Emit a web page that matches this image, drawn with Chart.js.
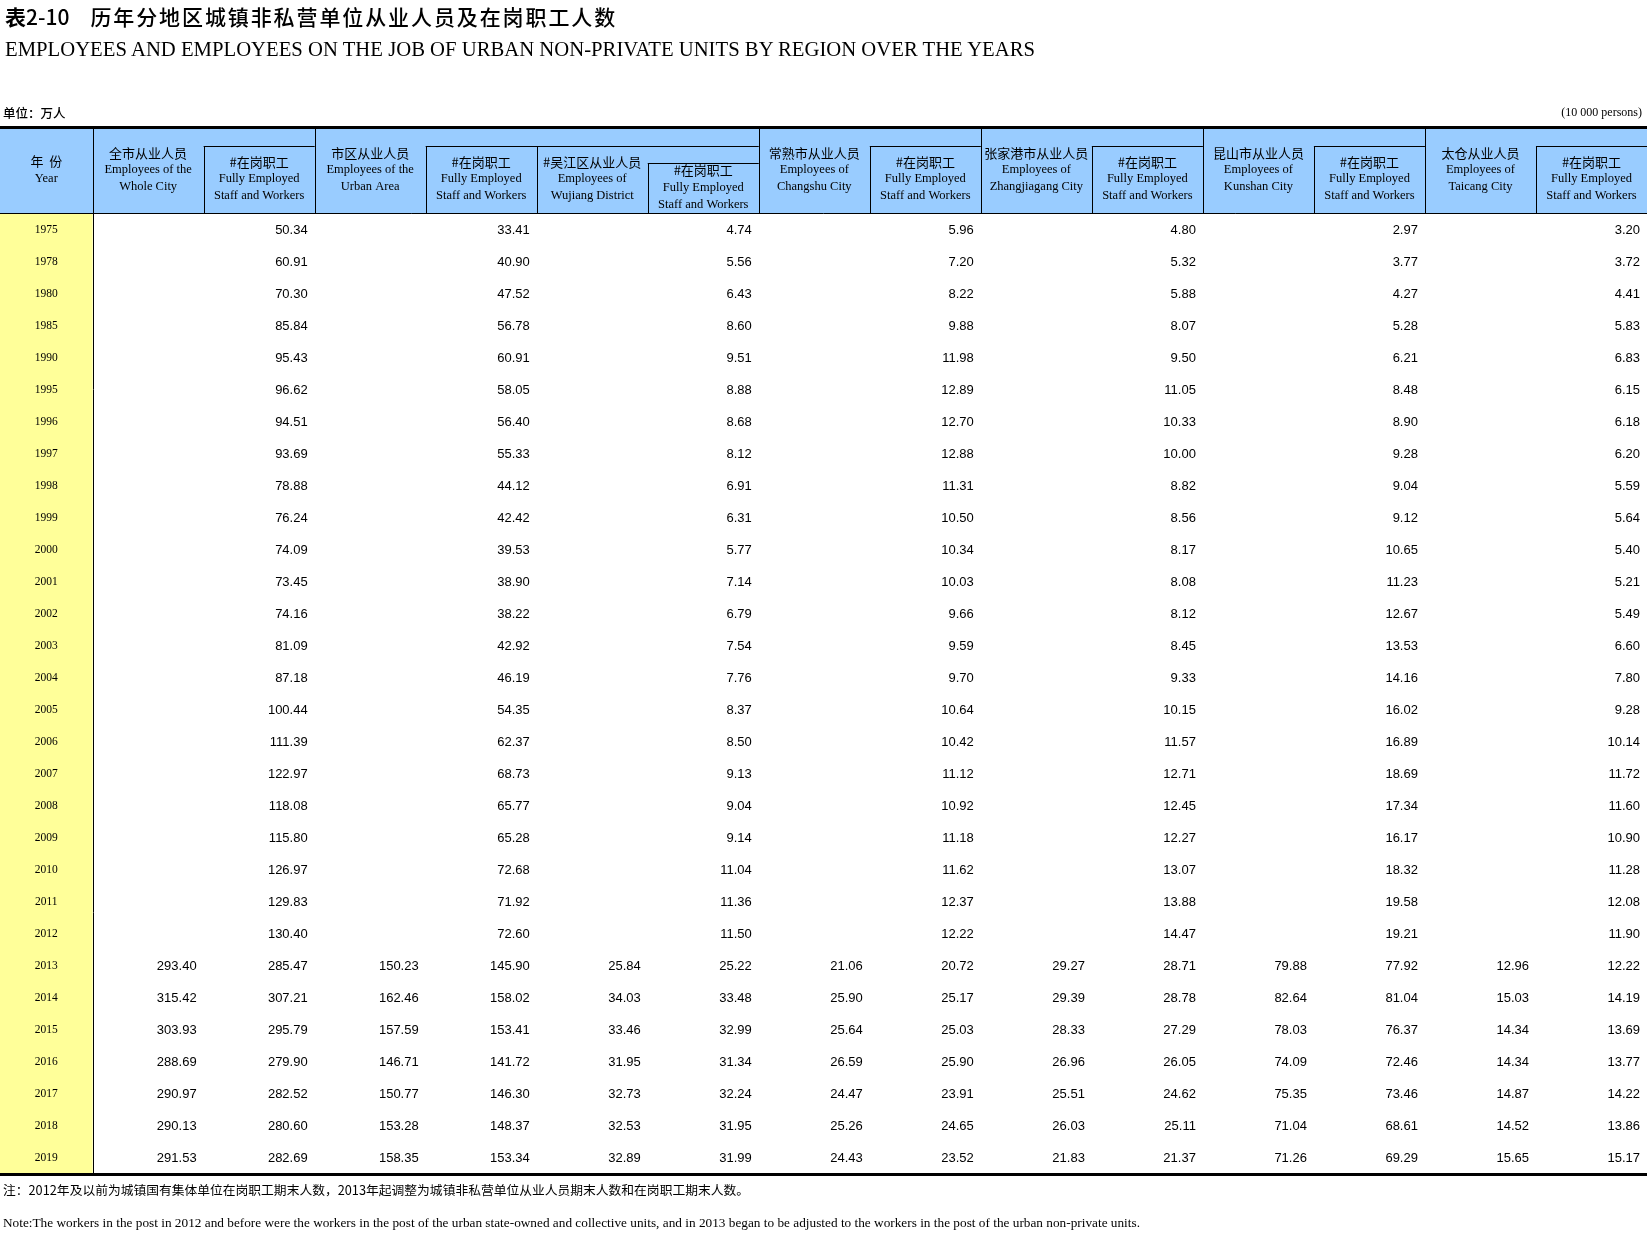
<!DOCTYPE html>
<html lang="zh-CN">
<head>
<meta charset="utf-8">
<title>表2-10 历年分地区城镇非私营单位从业人员及在岗职工人数</title>
<script src="https://cdn.jsdelivr.net/npm/chart.js@4.4.1/dist/chart.umd.min.js"></script>
<style>
  html, body { margin: 0; padding: 0; background: #fff; }
  #page { position: relative; width: 1647px; height: 1239px; overflow: hidden; }
  #table { position: absolute; left: 0; top: 0; }
  .txt { position: absolute; display: inline-block; white-space: nowrap; line-height: 1; color: #000; transform-origin: 0 0; }
  .cn { font-family: "Noto Sans CJK SC", sans-serif; }
  .en { font-family: "Liberation Serif", "DejaVu Serif", serif; }
</style>
</head>
<body>
<div id="page">
  <canvas id="table" width="1647" height="1239"></canvas>

  <div id="titleCn" class="txt cn" style="left:5px; top:6px; font-size:21px; font-weight:500;"><span style="font-weight:bold;">表</span>2-10<span style="margin-left:21px; letter-spacing:1.9px;">历年分地区城镇非私营单位从业人员及在岗职工人数</span></div>
  <div id="titleEn" class="txt en" style="left:5px; top:39px; font-size:21px;">EMPLOYEES AND EMPLOYEES ON THE JOB OF URBAN NON-PRIVATE UNITS BY REGION OVER THE YEARS</div>

  <div id="unitCn" class="txt cn" style="left:3px; top:107px; font-size:12.5px; font-weight:500;">单位：万人</div>
  <div id="unitEn" class="txt en" style="right:5px; top:106px; font-size:12px; transform-origin:100% 0;">(10 000 persons)</div>

  <div id="noteCn" class="txt cn" style="left:3px; top:1184px; font-size:12.5px;">注：2012年及以前为城镇国有集体单位在岗职工期末人数，2013年起调整为城镇非私营单位从业人员期末人数和在岗职工期末人数。</div>
  <div id="noteEn" class="txt en" style="left:3px; top:1217px; font-size:12.5px;">Note:The workers in the post in 2012 and before were the workers in the post of the urban state-owned and collective units, and in 2013 began to be adjusted to the workers in the post of the urban non-private units.</div>
</div>

<script>
// --- Data ---
const years = ['1975', '1978', '1980', '1985', '1990', '1995', '1996', '1997', '1998', '1999',
               '2000', '2001', '2002', '2003', '2004', '2005', '2006', '2007', '2008', '2009',
               '2010', '2011', '2012', '2013', '2014', '2015', '2016', '2017', '2018', '2019'];

const columns = ['全市从业人员', '全市在岗职工', '市区从业人员', '市区在岗职工',
                 '吴江区从业人员', '吴江区在岗职工', '常熟市从业人员', '常熟市在岗职工',
                 '张家港市从业人员', '张家港市在岗职工', '昆山市从业人员', '昆山市在岗职工',
                 '太仓从业人员', '太仓在岗职工'];

// header labels, one per column
const headerCn  = ['全市从业人员', '#在岗职工', '市区从业人员', '#在岗职工', '#吴江区从业人员', '#在岗职工',
                   '常熟市从业人员', '#在岗职工', '张家港市从业人员', '#在岗职工', '昆山市从业人员', '#在岗职工',
                   '太仓从业人员', '#在岗职工'];
const headerEn1 = ['Employees of the', 'Fully Employed', 'Employees of the', 'Fully Employed', 'Employees of', 'Fully Employed',
                   'Employees of', 'Fully Employed', 'Employees of', 'Fully Employed', 'Employees of', 'Fully Employed',
                   'Employees of', 'Fully Employed'];
const headerEn2 = ['Whole City', 'Staff and Workers', 'Urban Area', 'Staff and Workers', 'Wujiang District', 'Staff and Workers',
                   'Changshu City', 'Staff and Workers', 'Zhangjiagang City', 'Staff and Workers', 'Kunshan City', 'Staff and Workers',
                   'Taicang City', 'Staff and Workers'];
const yearHeader = ['年  份', 'Year'];

// 从业人员 series start in 2013, 在岗职工 series cover every year
const wholeCity         = [293.40, 315.42, 303.93, 288.69, 290.97, 290.13, 291.53];
const wholeCityStaff    = [50.34, 60.91, 70.30, 85.84, 95.43, 96.62, 94.51, 93.69, 78.88, 76.24,
                           74.09, 73.45, 74.16, 81.09, 87.18, 100.44, 111.39, 122.97, 118.08, 115.80,
                           126.97, 129.83, 130.40, 285.47, 307.21, 295.79, 279.90, 282.52, 280.60, 282.69];
const urbanArea         = [150.23, 162.46, 157.59, 146.71, 150.77, 153.28, 158.35];
const urbanAreaStaff    = [33.41, 40.90, 47.52, 56.78, 60.91, 58.05, 56.40, 55.33, 44.12, 42.42,
                           39.53, 38.90, 38.22, 42.92, 46.19, 54.35, 62.37, 68.73, 65.77, 65.28,
                           72.68, 71.92, 72.60, 145.90, 158.02, 153.41, 141.72, 146.30, 148.37, 153.34];
const wujiang           = [25.84, 34.03, 33.46, 31.95, 32.73, 32.53, 32.89];
const wujiangStaff      = [4.74, 5.56, 6.43, 8.60, 9.51, 8.88, 8.68, 8.12, 6.91, 6.31,
                           5.77, 7.14, 6.79, 7.54, 7.76, 8.37, 8.50, 9.13, 9.04, 9.14,
                           11.04, 11.36, 11.50, 25.22, 33.48, 32.99, 31.34, 32.24, 31.95, 31.99];
const changshu          = [21.06, 25.90, 25.64, 26.59, 24.47, 25.26, 24.43];
const changshuStaff     = [5.96, 7.20, 8.22, 9.88, 11.98, 12.89, 12.70, 12.88, 11.31, 10.50,
                           10.34, 10.03, 9.66, 9.59, 9.70, 10.64, 10.42, 11.12, 10.92, 11.18,
                           11.62, 12.37, 12.22, 20.72, 25.17, 25.03, 25.90, 23.91, 24.65, 23.52];
const zhangjiagang      = [29.27, 29.39, 28.33, 26.96, 25.51, 26.03, 21.83];
const zhangjiagangStaff = [4.80, 5.32, 5.88, 8.07, 9.50, 11.05, 10.33, 10.00, 8.82, 8.56,
                           8.17, 8.08, 8.12, 8.45, 9.33, 10.15, 11.57, 12.71, 12.45, 12.27,
                           13.07, 13.88, 14.47, 28.71, 28.78, 27.29, 26.05, 24.62, 25.11, 21.37];
const kunshan           = [79.88, 82.64, 78.03, 74.09, 75.35, 71.04, 71.26];
const kunshanStaff      = [2.97, 3.77, 4.27, 5.28, 6.21, 8.48, 8.90, 9.28, 9.04, 9.12,
                           10.65, 11.23, 12.67, 13.53, 14.16, 16.02, 16.89, 18.69, 17.34, 16.17,
                           18.32, 19.58, 19.21, 77.92, 81.04, 76.37, 72.46, 73.46, 68.61, 69.29];
const taicang           = [12.96, 15.03, 14.34, 14.34, 14.87, 14.52, 15.65];
const taicangStaff      = [3.20, 3.72, 4.41, 5.83, 6.83, 6.15, 6.18, 6.20, 5.59, 5.64,
                           5.40, 5.21, 5.49, 6.60, 7.80, 9.28, 10.14, 11.72, 11.60, 10.90,
                           11.28, 12.08, 11.90, 12.22, 14.19, 13.69, 13.77, 14.22, 13.86, 15.17];

const series = [wholeCity, wholeCityStaff, urbanArea, urbanAreaStaff, wujiang, wujiangStaff,
                changshu, changshuStaff, zhangjiagang, zhangjiagangStaff, kunshan, kunshanStaff,
                taicang, taicangStaff];

// --- Layout ---
const YEAR_W     = 92.6;   // width of the year column
const HEADER_TOP = 128;
const HEADER_H   = 86;
const TABLE_BOT  = 1174;
const HEADER_BG  = '#99ccff';
const YEAR_BG    = '#ffff99';

const cellTop    = [0, 18, 0, 18, 18, 35, 0, 18, 0, 18, 0, 18, 0, 18];
const groupStart = [0, 2, 6, 8, 10, 12];
const hLines     = [[1, 2, 18], [3, 6, 18], [5, 6, 35], [7, 8, 18], [9, 10, 18], [11, 12, 18], [13, 14, 18]];

// --- Plugin: draws the table furniture and cell text from the scales ---
const tablePlugin = {
  id: 'tableCells',
  beforeDatasetsDraw(chart) {
    const { ctx, chartArea: a, width } = chart;
    ctx.save();
    ctx.fillStyle = HEADER_BG;
    ctx.fillRect(0, a.top - HEADER_H, width, HEADER_H);
    ctx.fillStyle = YEAR_BG;
    ctx.fillRect(0, a.top, a.left, a.bottom - a.top);
    ctx.restore();
  },
  afterDatasetsDraw(chart) {
    const { ctx, chartArea: a, width } = chart;
    const xs = chart.scales.x, ys = chart.scales.y;
    const colW = xs.getPixelForValue(1) - xs.getPixelForValue(0);
    const edge = k => xs.getPixelForValue(0) - colW / 2 + k * colW;
    const top = a.top - HEADER_H;
    const px = v => Math.round(v) + 0.5;

    ctx.save();

    // thick rules
    ctx.fillStyle = '#000';
    ctx.fillRect(0, top - 2, width, 3);
    ctx.fillRect(0, a.bottom - 1, width, 3);

    // thin header rules
    ctx.strokeStyle = '#000';
    ctx.lineWidth = 1;
    ctx.beginPath();
    ctx.moveTo(0, px(a.top - 1)); ctx.lineTo(width, px(a.top - 1));
    ctx.moveTo(px(a.left), top); ctx.lineTo(px(a.left), a.bottom);
    for (let k = 1; k < columns.length; k++) {
      const start = groupStart.includes(k) ? 0 : Math.max(cellTop[k - 1], cellTop[k]);
      ctx.moveTo(px(edge(k)), top + start); ctx.lineTo(px(edge(k)), a.top);
    }
    hLines.forEach(([k0, k1, off]) => {
      ctx.moveTo(edge(k0), px(top + off)); ctx.lineTo(edge(k1), px(top + off));
    });
    ctx.stroke();

    // header text
    ctx.fillStyle = '#000';
    ctx.textAlign = 'center';
    ctx.textBaseline = 'middle';
    const cnFont = '13px "Noto Sans CJK SC", sans-serif';
    const enFont = '12.5px "Liberation Serif", serif';
    const mid0 = top + HEADER_H / 2 - 1;
    ctx.font = cnFont; ctx.fillText(yearHeader[0], a.left / 2, mid0 - 8.5);
    ctx.font = enFont; ctx.fillText(yearHeader[1], a.left / 2, mid0 + 8.5);
    columns.forEach((c, k) => {
      const cx = xs.getPixelForValue(k);
      const cy = top + (cellTop[k] + HEADER_H) / 2 - 1;
      ctx.font = cnFont; ctx.fillText(headerCn[k], cx, cy - 17);
      ctx.font = enFont; ctx.fillText(headerEn1[k], cx, cy);
      ctx.fillText(headerEn2[k], cx, cy + 17);
    });

    // year labels
    ctx.font = '11.5px "Liberation Serif", serif';
    years.forEach((yr, i) => ctx.fillText(yr, a.left / 2, ys.getPixelForValue(i)));

    // values
    ctx.font = '13px "Liberation Sans", Arial, sans-serif';
    ctx.textAlign = 'right';
    chart.data.datasets.forEach((ds, di) => {
      const meta = chart.getDatasetMeta(di);
      meta.data.forEach((pt, i) => {
        ctx.fillText(ds.data[i].v.toFixed(2), pt.x + colW / 2 - 7, pt.y);
      });
    });

    ctx.restore();
  }
};

// --- Datasets: one per column, aligned to the last years ---
const datasets = series.map((vals, k) => ({
  label: columns[k],
  data: vals.map((v, i) => ({ x: columns[k], y: years[years.length - vals.length + i], v })),
  pointRadius: 0,
  pointHoverRadius: 0
}));

new Chart(document.getElementById('table'), {
  type: 'scatter',
  data: { datasets },
  options: {
    responsive: false,
    animation: false,
    events: [],
    layout: { padding: { left: YEAR_W, right: 0, top: HEADER_TOP + HEADER_H, bottom: 1239 - TABLE_BOT } },
    scales: {
      x: { type: 'category', labels: columns, offset: true, display: false },
      y: { type: 'category', labels: years, offset: true, display: false }
    },
    plugins: { legend: { display: false }, tooltip: { enabled: false } }
  },
  plugins: [tablePlugin]
});

// --- Fit the long text lines to the reference widths ---
function fitWidth(id, w) {
  const el = document.getElementById(id);
  const cur = el.getBoundingClientRect().width;
  el.style.transform = 'scaleX(' + (w / cur) + ')';
}
fitWidth('titleEn', 1030);
fitWidth('noteCn', 746);
fitWidth('noteEn', 1137);
</script>
</body>
</html>
